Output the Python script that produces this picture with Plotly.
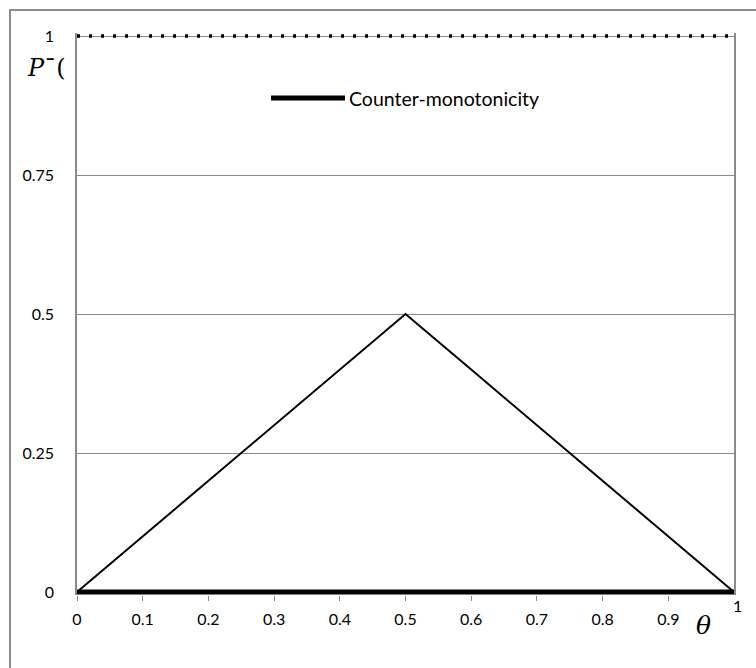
import plotly.graph_objects as go

# Probability curves against theta
theta = [0.0, 0.1, 0.2, 0.3, 0.4, 0.5, 0.6, 0.7, 0.8, 0.9, 1.0]
independence = [0.0, 0.1, 0.2, 0.3, 0.4, 0.5, 0.4, 0.3, 0.2, 0.1, 0.0]
counter_mono = [0.0, 0.0, 0.0, 0.0, 0.0, 0.0, 0.0, 0.0, 0.0, 0.0, 0.0]
co_mono = [1.0, 1.0, 1.0, 1.0, 1.0, 1.0, 1.0, 1.0, 1.0, 1.0, 1.0]

x_ticks = [0, 0.1, 0.2, 0.3, 0.4, 0.5, 0.6, 0.7, 0.8, 0.9]
x_tick_text = ["0", "0.1", "0.2", "0.3", "0.4", "0.5", "0.6", "0.7", "0.8", "0.9"]
y_ticks = [0, 0.25, 0.5, 0.75, 1]
y_tick_text = ["0", "0.25", "0.5", "0.75", "1"]

FONT = "Lato"
GRID = "#8a8a8a"
TICK_SIZE = 16

fig = go.Figure()
fig.add_trace(go.Scatter(x=theta, y=co_mono, mode="lines",
                         line=dict(color="black", width=3.5, dash="3px,9px"),
                         showlegend=False))
fig.add_trace(go.Scatter(x=theta, y=independence, mode="lines",
                         line=dict(color="black", width=2), showlegend=False))
fig.add_trace(go.Scatter(x=theta, y=counter_mono, mode="lines",
                         line=dict(color="black", width=5),
                         name="Counter-monotonicity", showlegend=False))

W, H = 756, 668
ML, MR, MT, MB = 77, 22, 33, 73
pw, ph = W - ML - MR, H - MT - MB


def px(x):
    return (x - ML) / pw


def py(y):
    return (H - MB - y) / ph


# outer chart frame
fig.add_shape(type="rect", xref="paper", yref="paper",
              x0=px(10), x1=px(780), y0=py(10), y1=py(700),
              line=dict(color="#8c8c8c", width=2), layer="below")

# legend entry
fig.add_shape(type="line", xref="paper", yref="paper",
              x0=px(271), x1=px(345), y0=py(98), y1=py(98),
              line=dict(color="black", width=5))
annotations = [
    dict(text="Counter-monotonicity", x=px(347), y=py(98), xanchor="left",
         yanchor="middle", font=dict(family=FONT, size=19.5, color="black")),
    dict(text="<i>P</i>¯(", x=px(46), y=py(68), xanchor="center",
         yanchor="middle", font=dict(family="DejaVu Serif", size=24, color="black")),
    dict(text="<i>θ</i>", x=px(703), y=py(625), xanchor="center",
         yanchor="middle", font=dict(family="DejaVu Serif", size=25, color="black")),
    dict(text="1", x=1, y=py(605), xanchor="center", xshift=3,
         yanchor="middle", font=dict(family=FONT, size=TICK_SIZE, color="black")),
]
for a in annotations:
    a.update(xref="paper", yref="paper", showarrow=False)

fig.update_layout(
    width=W, height=H,
    margin=dict(l=ML, r=MR, t=MT, b=MB),
    paper_bgcolor="white", plot_bgcolor="white",
    annotations=annotations,
    font=dict(family=FONT, size=TICK_SIZE, color="black"),
    xaxis=dict(range=[0, 1], tickvals=x_ticks, ticktext=x_tick_text,
               showgrid=False, zeroline=False, showline=False,
               ticks="outside", ticklen=5, tickcolor=GRID, tickwidth=1,
               ticklabelstandoff=5,
               tickfont=dict(family=FONT, size=TICK_SIZE, color="black")),
    yaxis=dict(range=[-0.0054, 1.0054], tickvals=y_ticks, ticktext=y_tick_text,
               showgrid=True, gridcolor=GRID, gridwidth=1, zeroline=False,
               showline=True, mirror=True, linecolor=GRID, linewidth=1.5,
               ticks="", ticklabelstandoff=18,
               tickfont=dict(family=FONT, size=TICK_SIZE, color="black")),
)

fig.write_html("out.html")
